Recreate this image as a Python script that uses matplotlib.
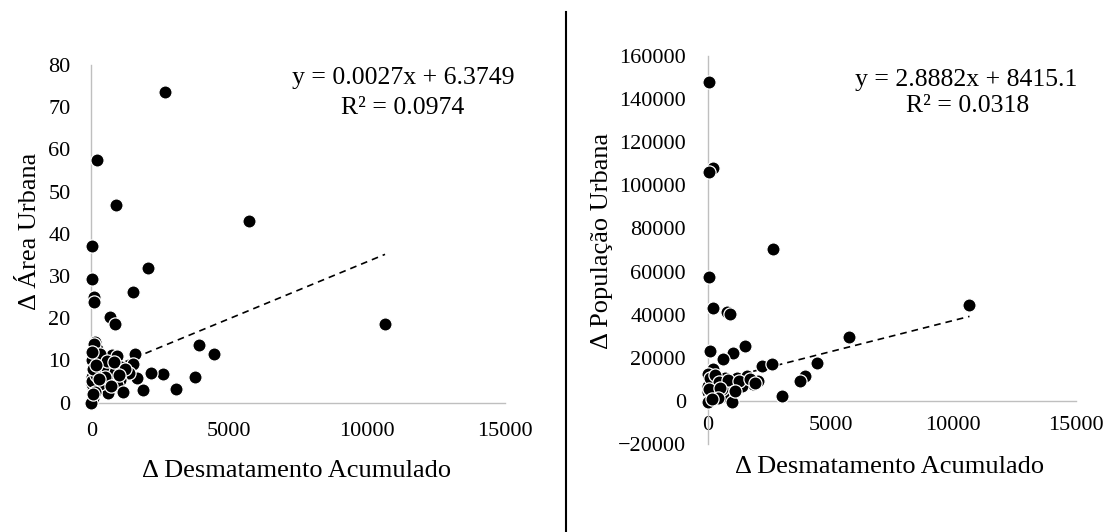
import numpy as np
import matplotlib
matplotlib.use("Agg")
import matplotlib.pyplot as plt

plt.rcParams['font.family'] = ['Liberation Serif', 'DejaVu Serif']

# Δ área urbana x Δ desmatamento acumulado
desm_area = [2668, 206, 885, 5724, 24, 2037, 24, 1491, 85, 85, 667, 849, 10647,
             3917, 4426, 3056, 1880, 3747, 2583, 2170,
             130, 188, 90, 756, 934, 1578, 7, 327, 1058, 1500, 671, 1640, 1358,
             7, 247, 1034, 914, 610, 1154, 65, 65, 7, 308, 308, 0, 24, 420, 550,
             180, 120, 60, 150, 480, 800, 1200, 30, 260, 700, 1000, 40]
area_urb = [73.5, 57.6, 46.9, 43.0, 37.2, 31.9, 29.2, 26.3, 24.9, 23.9, 20.2, 18.6, 18.7,
            13.6, 11.4, 3.1, 2.9, 6.1, 6.8, 7.0,
            14.3, 12.8, 13.8, 11.3, 11.1, 11.5, 10.1, 10.2, 8.5, 9.2, 6.9, 5.7, 7.1,
            6.1, 7.7, 5.3, 4.1, 2.2, 2.6, 1.0, 3.4, 4.5, 4.5, 11.6, 0.0, 5.1, 8.5, 9.8,
            6.5, 2.5, 8.0, 9.0, 6.0, 9.5, 8.0, 12.0, 5.5, 4.0, 6.5, 2.0]

# Δ população urbana x Δ desmatamento acumulado
desm_pop = [29, 200, 29, 2636, 29, 200, 788, 888, 10660, 5760,
            82, 1508, 1032, 624, 2188, 2596, 217, 4427, 3954, 3750, 149, 217,
            693, 1168, 1576, 1848, 1372, 965, 0, 354, 965, 624, 14, 3037, 0, 558,
            0, 0, 965, 315, 243, 1390, 2035,
            100, 300, 450, 800, 1250, 1700, 60, 500, 1100, 400, 150, 1900]
pop_urb = [148100, 108000, 106000, 70600, 57600, 43000, 41400, 40200, 44400, 29800,
           23200, 25500, 22400, 19300, 16200, 17300, 14700, 17500, 11600, 9300, 9300, 7900,
           10800, 10800, 11600, 7700, 7700, 7000, 3900, 3900, 2300, 2300, 0, 2300, 7000, 5400,
           12400, -300, -300, 2900, 7600, 6800, 9200,
           10500, 12000, 8800, 9500, 9000, 10200, 5500, 6200, 4500, 1500, 1000, 8200]

# coeficientes das linhas de tendência (Excel)
coef_area = (0.0027, 6.3749)
coef_pop = (2.8882, 8415.1)

x_ticks = [0, 5000, 10000, 15000]
area_ticks = list(range(0, 81, 10))
pop_ticks = list(range(-20000, 160001, 20000))

GRAY = '#bfbfbf'
TICK_FS = 16
LABEL_FS = 19
EQ_FS = 18.5

fig = plt.figure(figsize=(11.09, 5.32), dpi=100)


def style_axes(ax, xpad, ypad):
    for s in ['top', 'right']:
        ax.spines[s].set_visible(False)
    ax.spines['left'].set_color(GRAY)
    ax.spines['bottom'].set_color(GRAY)
    ax.spines['left'].set_linewidth(1.0)
    ax.spines['bottom'].set_linewidth(1.0)
    ax.spines['bottom'].set_position(('data', 0))
    ax.tick_params(length=0, labelsize=TICK_FS)
    ax.tick_params(axis='x', pad=xpad)
    ax.tick_params(axis='y', pad=ypad)
    ax.patch.set_alpha(0)


def scatter_trend(ax, x, y, coef):
    x = np.array(x)
    ax.plot(x, y, 'o', color='black', markersize=9.5, markeredgecolor='white',
            markeredgewidth=0.9, clip_on=False, zorder=3)
    xs = np.array([x.min(), x.max()])
    ax.plot(xs, coef[0] * xs + coef[1], '--', color='black', lw=1.2,
            dashes=(4, 3), zorder=2)


# painel esquerdo
ax1 = fig.add_axes([0.0825, 0.2434, 0.3729, 0.6344])
scatter_trend(ax1, desm_area, area_urb, coef_area)
ax1.set_xlim(0, 15000)
ax1.set_ylim(0, 80)
ax1.set_xticks(x_ticks)
ax1.set_yticks(area_ticks)
style_axes(ax1, 14, 15)
fig.text(297 / 1109, 1 - 471 / 532, 'Δ Desmatamento Acumulado', fontsize=LABEL_FS,
         ha='center', va='center')
fig.text(30 / 1109, 1 - 231 / 532, 'Δ Área Urbana', fontsize=LABEL_FS, rotation=90,
         ha='center', va='center')
fig.text(403 / 1109, 1 - 78 / 532, 'y = 0.0027x + 6.3749', fontsize=EQ_FS,
         ha='center', va='center')
fig.text(403 / 1109, 1 - 108 / 532, 'R² = 0.0974', fontsize=EQ_FS,
         ha='center', va='center')

# painel direito
ax2 = fig.add_axes([0.6384, 0.1654, 0.3318, 0.7293])
scatter_trend(ax2, desm_pop, pop_urb, coef_pop)
ax2.set_xlim(0, 15000)
ax2.set_ylim(-20000, 160000)
ax2.set_xticks(x_ticks)
ax2.set_yticks(pop_ticks)
style_axes(ax2, 11, 16)
fig.text(890 / 1109, 1 - 467 / 532, 'Δ Desmatamento Acumulado', fontsize=LABEL_FS,
         ha='center', va='center')
fig.text(602 / 1109, 1 - 241 / 532, 'Δ População Urbana', fontsize=LABEL_FS, rotation=90,
         ha='center', va='center')
fig.text(966 / 1109, 1 - 80 / 532, 'y = 2.8882x + 8415.1', fontsize=EQ_FS,
         ha='center', va='center')
fig.text(968 / 1109, 1 - 106 / 532, 'R² = 0.0318', fontsize=EQ_FS,
         ha='center', va='center')

# linha divisória
fig.add_artist(plt.Line2D([566 / 1109, 566 / 1109], [0, 1 - 12 / 532],
                          color='black', lw=1.5))

fig.savefig('out.png', dpi=100)
